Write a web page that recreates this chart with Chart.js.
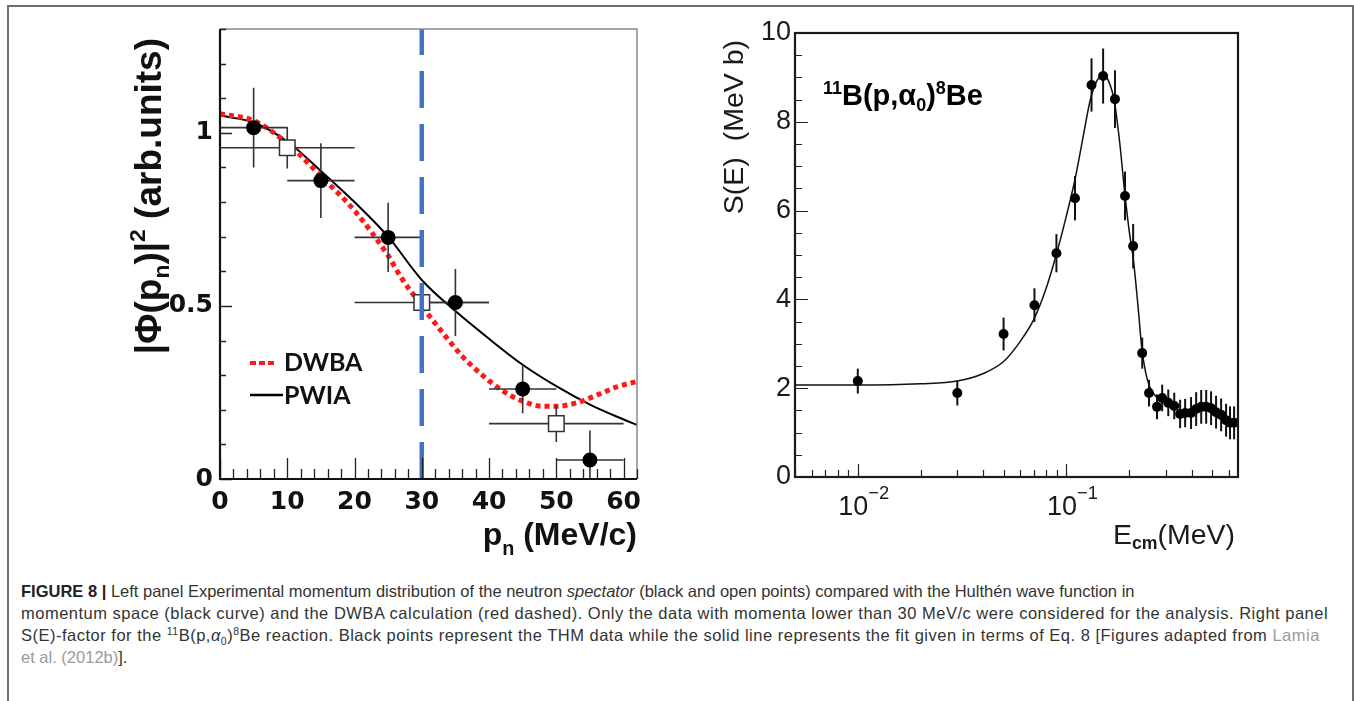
<!DOCTYPE html>
<html><head><meta charset="utf-8">
<script src="https://cdn.jsdelivr.net/npm/chart.js@4.4.1/dist/chart.umd.min.js"></script>
<style>
html,body{margin:0;padding:0;background:#fff;width:1354px;height:701px;overflow:hidden;}
#frame{position:absolute;left:7px;top:5px;width:1343px;height:720px;border:2px solid #6e6e6e;border-bottom:none;}
#cL{position:absolute;left:0;top:0;}
#cR{position:absolute;left:680px;top:0;}
#cap{position:absolute;left:21px;top:580px;font-family:"Liberation Sans",Arial,sans-serif;font-size:16.5px;line-height:22px;color:#333;white-space:nowrap;}
#cap b{color:#222;}
#cap .ref{color:#9a9a9a;}
#cap sup,#cap sub{font-size:10.5px;line-height:0;}
#cap .l2,#cap .l3{letter-spacing:0.5px;}
</style></head><body>
<div id="frame"></div>
<canvas id="cL" width="680" height="560"></canvas>
<canvas id="cR" width="674" height="560"></canvas>
<div id="cap">
<div class="l1"><b>FIGURE 8 |</b> Left panel Experimental momentum distribution of the neutron <i>spectator</i> (black and open points) compared with the Hulthén wave function in</div>
<div class="l2">momentum space (black curve) and the DWBA calculation (red dashed). Only the data with momenta lower than 30 MeV/c were considered for the analysis. Right panel</div>
<div class="l3">S(E)-factor for the <sup>11</sup>B(p,<i>α</i><sub>0</sub>)<sup>8</sup>Be reaction. Black points represent the THM data while the solid line represents the fit given in terms of Eq. 8 [Figures adapted from <span class="ref">Lamia</span></div>
<div class="l4"><span class="ref">et al. (2012b)</span>].</div>
</div>
<script>
// ---------------- Left panel data ----------------
const pnFilledX    = [5, 15, 25, 35, 45, 55];
const pnFilledY    = [1.015, 0.862, 0.698, 0.51, 0.26, 0.055];
const pnFilledXErr = [5, 5, 5, 5, 5, 5];
const pnFilledYErr = [0.115, 0.108, 0.10, 0.097, 0.07, 0.085];
const pnOpenX      = [10, 30, 50];
const pnOpenY      = [0.957, 0.51, 0.16];
const pnOpenXErr   = [10, 10, 10];
const pnOpenYErr   = [0.06, 0.05, 0.053];
const pwiaX = [0, 5, 10, 15, 20, 25, 30, 35, 40, 45, 50, 55, 60, 62];
const pwiaY = [1.05, 1.03, 0.975, 0.89, 0.80, 0.70, 0.575, 0.485, 0.405, 0.33, 0.268, 0.215, 0.172, 0.156];
const dwbaX = [0, 5, 10, 15, 20, 25, 27, 30, 33, 36, 39, 42, 45, 48, 50, 53, 56, 59, 62];
const dwbaY = [1.055, 1.035, 0.97, 0.875, 0.775, 0.645, 0.58, 0.50, 0.425, 0.355, 0.30, 0.255, 0.225, 0.21, 0.21, 0.22, 0.242, 0.266, 0.282];
const cutX = [30, 30];
const cutY = [0, 1.3];
const leftXTicks = [0, 10, 20, 30, 40, 50, 60];
const leftYTicks = [0, 0.5, 1];

// ---------------- Right panel data ----------------
const ecm  = [0.0100, 0.0300, 0.0500, 0.0703, 0.0896, 0.110, 0.132, 0.150, 0.171, 0.191, 0.209, 0.231, 0.249, 0.272, 0.288, 0.308, 0.329, 0.351, 0.371, 0.396, 0.419, 0.443, 0.468, 0.494, 0.522, 0.552, 0.583, 0.609, 0.637];
const sFac = [2.16, 1.89, 3.22, 3.87, 5.04, 6.28, 8.83, 9.03, 8.51, 6.33, 5.20, 2.79, 1.89, 1.58, 1.78, 1.67, 1.60, 1.42, 1.44, 1.44, 1.53, 1.58, 1.58, 1.55, 1.46, 1.40, 1.28, 1.22, 1.22];
const sErr = [0.28, 0.28, 0.37, 0.38, 0.43, 0.50, 0.60, 0.62, 0.65, 0.55, 0.50, 0.35, 0.30, 0.28, 0.30, 0.30, 0.30, 0.32, 0.32, 0.36, 0.38, 0.38, 0.38, 0.38, 0.37, 0.37, 0.37, 0.37, 0.37];
const fitE = [0.005, 0.01, 0.02, 0.03, 0.04, 0.05, 0.06, 0.07, 0.08, 0.09, 0.10, 0.11, 0.12, 0.13, 0.14, 0.15, 0.16, 0.17, 0.18, 0.19, 0.20, 0.21, 0.22, 0.23, 0.24, 0.25, 0.27, 0.29];
const fitS = [2.07, 2.07, 2.10, 2.16, 2.33, 2.60, 3.05, 3.56, 4.25, 5.05, 5.88, 6.70, 7.63, 8.48, 8.92, 9.05, 8.90, 8.45, 7.55, 6.45, 5.55, 4.85, 3.90, 2.90, 2.35, 2.05, 1.80, 1.68];
const rightYTicks = [0, 2, 4, 6, 8, 10];
const rightXDecades = [0.01, 0.1];

const pts = (xs, ys) => xs.map((x, i) => ({x, y: ys[i]}));

// ---------------- rich text helper ----------------
function drawRich(ctx, segs, x, y, o) {
  const base = o.size, sc = o.scriptScale || 0.62;
  const fam = o.family || "'Liberation Sans', Arial, sans-serif";
  const fontOf = (s, w) => `${w || o.weight || 'normal'} ${s}px ${fam}`;
  let w = 0;
  const parts = segs.map(([t, k, wt]) => {
    const s = k ? base * sc : base;
    ctx.font = fontOf(s, wt);
    const pw = ctx.measureText(t).width;
    w += pw;
    return {t, k, s, pw, wt};
  });
  ctx.save();
  ctx.translate(x, y);
  if (o.rotate) ctx.rotate(o.rotate);
  let cx = o.align === 'right' ? -w : o.align === 'center' ? -w / 2 : 0;
  ctx.fillStyle = o.color || '#000';
  ctx.textBaseline = 'alphabetic';
  ctx.textAlign = 'left';
  for (const p of parts) {
    ctx.font = fontOf(p.s, p.wt);
    const dy = p.k === 'sup' ? -base * (o.supRaise || 0.42) : p.k === 'sub' ? base * (o.subDrop || 0.22) : 0;
    ctx.fillText(p.t, cx, dy);
    cx += p.pw;
  }
  ctx.restore();
}

function drawErrorBars(chart, color, width) {
  const ctx = chart.ctx, xs = chart.scales.x, ys = chart.scales.y;
  ctx.save();
  ctx.strokeStyle = color; ctx.lineWidth = width;
  ctx.beginPath();
  ctx.rect(chart.chartArea.left, chart.chartArea.top, chart.chartArea.right - chart.chartArea.left, chart.chartArea.bottom - chart.chartArea.top);
  ctx.clip();
  chart.data.datasets.forEach(ds => {
    if (!ds.errY) return;
    ds.data.forEach((p, i) => {
      const px = xs.getPixelForValue(p.x), py = ys.getPixelForValue(p.y);
      ctx.beginPath();
      if (ds.errX) {
        ctx.moveTo(xs.getPixelForValue(p.x - ds.errX[i]), py);
        ctx.lineTo(xs.getPixelForValue(p.x + ds.errX[i]), py);
      }
      ctx.moveTo(px, ys.getPixelForValue(Math.max(0, p.y - ds.errY[i])));
      ctx.lineTo(px, ys.getPixelForValue(p.y + ds.errY[i]));
      ctx.stroke();
    });
  });
  ctx.restore();
}

// ---------------- Left chart ----------------
const leftDeco = {
  id: 'leftDeco',
  beforeDatasetDraw(chart, args) {
    if (args.index === 2) drawErrorBars(chart, '#333', 1.6);
  },
  afterDatasetsDraw(chart) {
    const ctx = chart.ctx, a = chart.chartArea, xs = chart.scales.x, ys = chart.scales.y;
    ctx.save();
    ctx.strokeStyle = '#8a8a8a'; ctx.lineWidth = 1.5;
    ctx.beginPath();
    ctx.moveTo(a.left, a.top); ctx.lineTo(a.right, a.top); ctx.lineTo(a.right, a.bottom);
    ctx.stroke();
    ctx.strokeStyle = '#222'; ctx.lineWidth = 1.3;
    ctx.beginPath();
    for (let v = 0; v <= 62; v += 2) {
      const px = Math.round(xs.getPixelForValue(v)) + 0.5;
      const len = v % 10 === 0 ? 21 : 10;
      ctx.moveTo(px, a.bottom); ctx.lineTo(px, a.bottom - len);
    }
    for (let k = 0; k <= 13; k++) {
      const v = k / 10;
      const py = Math.round(ys.getPixelForValue(v)) + 0.5;
      const len = k % 5 === 0 ? 12 : 6;
      ctx.moveTo(a.left, py); ctx.lineTo(a.left + len, py);
    }
    ctx.stroke();
    ctx.strokeStyle = '#111'; ctx.lineWidth = 2.2;
    ctx.beginPath();
    ctx.moveTo(a.left, a.top); ctx.lineTo(a.left, a.bottom); ctx.lineTo(a.right, a.bottom);
    ctx.stroke();
    ctx.restore();
  },
  afterDraw(chart) {
    const ctx = chart.ctx, a = chart.chartArea;
    drawRich(ctx, [['|Φ(p'], ['n', 'sub'], [')|'], ['2', 'sup'], [' (arb.units)']], 161, 38,
      {size: 37, weight: 'bold', color: '#111', align: 'right', rotate: -Math.PI / 2});
    drawRich(ctx, [['p'], ['n', 'sub'], [' (MeV/c)']], a.right, 545,
      {size: 32, weight: 'bold', color: '#111', align: 'right', subDrop: 0.3});
    const dsD = chart.data.datasets[3], dsP = chart.data.datasets[4];
    ctx.save();
    ctx.lineWidth = 4; ctx.strokeStyle = dsD.borderColor; ctx.setLineDash([6, 3]);
    ctx.beginPath(); ctx.moveTo(a.left + 30, 363); ctx.lineTo(a.left + 57, 363); ctx.stroke();
    ctx.setLineDash([]); ctx.lineWidth = 2.5; ctx.strokeStyle = dsP.borderColor;
    ctx.beginPath(); ctx.moveTo(a.left + 30, 395); ctx.lineTo(a.left + 63, 395); ctx.stroke();
    ctx.fillStyle = '#111'; ctx.font = "bold 25px Lato, 'Open Sans', sans-serif";
    ctx.textBaseline = 'middle'; ctx.textAlign = 'left';
    ctx.fillText(dsD.label, a.left + 64, 363);
    ctx.fillText(dsP.label, a.left + 64, 396);
    ctx.restore();
  }
};

new Chart(document.getElementById('cL'), {
  type: 'scatter',
  data: {
    datasets: [
      {label: 'cut', type: 'line', data: pts(cutX, cutY), borderColor: '#4472c4', borderWidth: 4.5,
       borderDash: [37, 16], pointRadius: 0, order: 0},
      {label: 'filled', data: pts(pnFilledX, pnFilledY), errX: pnFilledXErr, errY: pnFilledYErr,
       pointRadius: 7.5, backgroundColor: '#000', borderColor: '#000', borderWidth: 0, order: 1},
      {label: 'open', data: pts(pnOpenX, pnOpenY), errX: pnOpenXErr, errY: pnOpenYErr,
       pointStyle: 'rect', pointRadius: 11, backgroundColor: '#fff', borderColor: '#333', borderWidth: 1.5, order: 2},
      {label: 'DWBA', type: 'line', data: pts(dwbaX, dwbaY), borderColor: '#ff1a1a', borderWidth: 5,
       borderDash: [5, 4], pointRadius: 0, cubicInterpolationMode: 'monotone', order: 3},
      {label: 'PWIA', type: 'line', data: pts(pwiaX, pwiaY), borderColor: '#000', borderWidth: 2,
       pointRadius: 0, cubicInterpolationMode: 'monotone', order: 4}
    ]
  },
  options: {
    responsive: false, animation: false, devicePixelRatio: 1,
    layout: {padding: {left: 0, right: 43, top: 29, bottom: 0}},
    plugins: {legend: {display: false}, tooltip: {enabled: false}},
    scales: {
      x: {type: 'linear', min: 0, max: 62,
          afterFit: s => { s.height = 81; },
          afterBuildTicks: s => { s.ticks = leftXTicks.map(v => ({value: v})); },
          grid: {display: false, drawTicks: false}, border: {display: false},
          ticks: {padding: 8, color: '#111', autoSkip: false, maxRotation: 0,
                  font: {family: "'DejaVu Sans'", weight: 'bold', size: 25}, callback: v => String(v)}},
      y: {type: 'linear', min: 0, max: 1.3,
          afterFit: s => { s.width = 220; },
          afterBuildTicks: s => { s.ticks = leftYTicks.map(v => ({value: v})); },
          grid: {display: false, drawTicks: false}, border: {display: false},
          ticks: {padding: 7, color: '#111', autoSkip: false,
                  font: {family: "'DejaVu Sans'", weight: 'bold', size: 25}, callback: v => String(v)}}
    }
  },
  plugins: [leftDeco]
});

// ---------------- Right chart ----------------
const OFF = 680;
const rightDeco = {
  id: 'rightDeco',
  beforeDatasetDraw(chart, args) {
    if (args.index === 0) drawErrorBars(chart, '#111', 2);
  },
  afterDatasetsDraw(chart) {
    const ctx = chart.ctx, a = chart.chartArea, xs = chart.scales.x, ys = chart.scales.y;
    ctx.save();
    ctx.strokeStyle = '#222'; ctx.lineWidth = 1.2;
    ctx.beginPath();
    for (let k = 1; k < 20; k++) {
      const py = Math.round(ys.getPixelForValue(k / 2)) + 0.5;
      const len = k % 4 === 0 ? 13 : 7;
      ctx.moveTo(a.left, py); ctx.lineTo(a.left + len, py);
    }
    for (const d of [0.001, 0.01, 0.1]) {
      for (let m = 1; m <= 9; m++) {
        const v = m * d;
        if (v < xs.min || v > xs.max) continue;
        const px = Math.round(xs.getPixelForValue(v)) + 0.5;
        const len = m === 1 ? 13 : 7;
        ctx.moveTo(px, a.bottom); ctx.lineTo(px, a.bottom - len);
      }
    }
    ctx.stroke();
    ctx.strokeStyle = '#1a1a1a'; ctx.lineWidth = 2.2;
    ctx.strokeRect(a.left, a.top, a.right - a.left, a.bottom - a.top);
    ctx.restore();
  },
  afterDraw(chart) {
    const ctx = chart.ctx, a = chart.chartArea, xs = chart.scales.x;
    rightXDecades.forEach(v => {
      const px = xs.getPixelForValue(v);
      const ex = Math.round(Math.log10(v));
      drawRich(ctx, [['10'], ['\u2212' + Math.abs(ex), 'sup']], px + 6, 515,
        {size: 27, color: '#1a1a1a', align: 'center', scriptScale: 0.68, supRaise: 0.6});
    });
    drawRich(ctx, [['S(E)  (MeV b)']], 743 - OFF, 40,
      {size: 28.5, color: '#1a1a1a', align: 'right', rotate: -Math.PI / 2});
    drawRich(ctx, [['E'], ['cm', 'sub', 'bold'], ['(MeV)']], a.right - 3, 544,
      {size: 28.5, color: '#1a1a1a', align: 'right', subDrop: 0.18});
    drawRich(ctx, [['11', 'sup'], ['B(p,α'], ['0', 'sub'], [')'], ['8', 'sup'], ['Be']], 823 - OFF, 105,
      {size: 29, weight: 'bold', color: '#000', align: 'left', supRaise: 0.38, subDrop: 0.2});
  }
};

new Chart(document.getElementById('cR'), {
  type: 'scatter',
  data: {
    datasets: [
      {label: 'THM', data: pts(ecm, sFac), errY: sErr, pointRadius: 5, backgroundColor: '#000',
       borderColor: '#000', borderWidth: 0, order: 0},
      {label: 'fit', type: 'line', data: pts(fitE, fitS), borderColor: '#111', borderWidth: 1.5,
       pointRadius: 0, cubicInterpolationMode: 'monotone', order: 1}
    ]
  },
  options: {
    responsive: false, animation: false, devicePixelRatio: 1,
    layout: {padding: {left: 0, right: 116, top: 33, bottom: 0}},
    plugins: {legend: {display: false}, tooltip: {enabled: false}},
    scales: {
      x: {type: 'logarithmic', min: 0.005, max: 0.665,
          afterFit: s => { s.height = 83; },
          grid: {display: false, drawTicks: false}, border: {display: false},
          ticks: {display: false}},
      y: {type: 'linear', min: 0, max: 10,
          afterFit: s => { s.width = 115; },
          afterBuildTicks: s => { s.ticks = rightYTicks.map(v => ({value: v})); },
          grid: {display: false, drawTicks: false}, border: {display: false},
          ticks: {padding: 4, color: '#1a1a1a', autoSkip: false,
                  font: {family: "'Liberation Sans'", size: 27}, callback: v => String(v)}}
    }
  },
  plugins: [rightDeco]
});
</script>
</body></html>
